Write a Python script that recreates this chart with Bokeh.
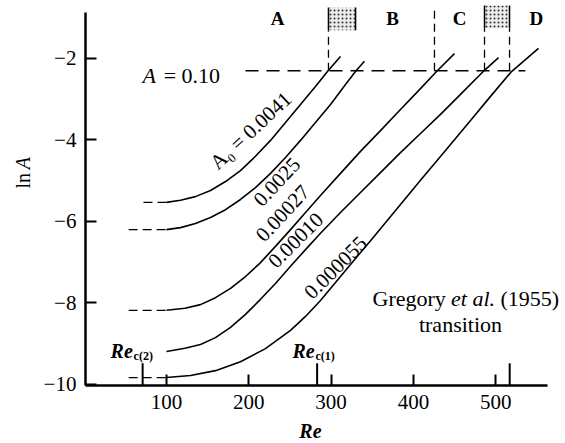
import numpy as np
from bokeh.plotting import figure
from bokeh.models import Label, FixedTicker, Range1d, LinearAxis
from bokeh.embed import file_html
from bokeh.resources import INLINE

# ---------------- data ----------------
re_c1 = [100, 117.0, 135.2, 153.5, 171.7, 189.9, 208.1, 226.4, 244.6, 262.8, 281.0, 296.8, 311.4]
ln_c1 = [-5.53, -5.48, -5.39, -5.24, -5.02, -4.75, -4.40, -4.01, -3.57, -3.13, -2.69, -2.29, -1.95]

re_c2 = [100, 117.0, 135.2, 153.5, 171.7, 189.9, 208.1, 226.4, 244.6, 262.8, 281.0, 299.3, 317.5, 330.8, 340.5]
ln_c2 = [-6.20, -6.15, -6.05, -5.90, -5.71, -5.46, -5.17, -4.82, -4.43, -4.01, -3.57, -3.13, -2.64, -2.29, -2.07]

re_c3 = [100, 122.4, 141.3, 159.5, 177.8, 196.0, 214.2, 232.4, 250.7, 268.9, 287.1, 311.4, 335.7,
         360.0, 384.3, 408.6, 428.1, 449.9]
ln_c3 = [-8.18, -8.13, -8.04, -7.87, -7.64, -7.35, -7.01, -6.61, -6.20, -5.78, -5.36, -4.82, -4.28,
         -3.77, -3.25, -2.74, -2.32, -1.88]

re_c4 = [100, 122.4, 141.3, 159.5, 177.8, 196.0, 214.2, 232.4, 250.7, 268.9, 287.1, 311.4, 335.7,
         360.0, 384.3, 408.6, 432.9, 457.2, 486.4, 503.4]
ln_c4 = [-9.19, -9.11, -9.02, -8.85, -8.60, -8.28, -7.91, -7.52, -7.10, -6.69, -6.29, -5.78, -5.29,
         -4.80, -4.31, -3.84, -3.37, -2.88, -2.29, -1.98]

re_c5 = [100, 129.2, 159.5, 189.9, 220.2, 250.7, 268.9, 287.1, 317.5, 347.9, 378.3, 408.6, 439.0,
         469.4, 493.7, 519.2, 552.0]
ln_c5 = [-9.83, -9.78, -9.66, -9.44, -9.12, -8.67, -8.33, -7.94, -7.20, -6.47, -5.73, -4.99, -4.26,
         -3.52, -2.93, -2.32, -1.75]

curve_res = [re_c1, re_c2, re_c3, re_c4, re_c5]
curve_lns = [ln_c1, ln_c2, ln_c3, ln_c4, ln_c5]
curve_labels = ["A\u2080 = 0.0041", "0.0025", "0.00027", "0.00010", "0.000055"]

# dashed extensions to the left of curve starts (start Re, level)
ext_start = [72, 54, 54, 54]
ext_level = [-5.53, -6.20, -8.18, -9.83]
ext_end = 100

A_crit = 0.10
crit_re = [196, 536]

# transition boundaries (vertical dashed lines) and stippled bands
v_re = [296.8, 425.6, 486.4, 516.8]
v_top = [-1.31, -0.75, -1.26, -1.26]
band_left = [296.8, 486.4]
band_right = [329.7, 516.8]
band_bottom = [-1.31, -1.26]
band_top = [-0.75, -0.70]
regions = ["A", "B", "C", "D"]
region_re = [234.9, 374.6, 456.0, 549.5]

# critical Reynolds numbers (tall marks on Re axis)
re_crit_marks = [71, 283, 517]

x_ticks = [100, 200, 300, 400, 500]
y_ticks = [-10, -8, -6, -4, -2]

# ---------------- figure ----------------
XMIN, XMAX = -101.7, 584.8
YMIN, YMAX = -11.448, -0.577
X_AX, Y_AX = 1.5, -10.02      # where the axes sit
X_END, Y_END = 563, -0.87      # ends of the axis lines

p = figure(width=565, height=443, output_backend="svg", toolbar_location=None,
           x_range=Range1d(XMIN, XMAX), y_range=Range1d(YMIN, YMAX),
           x_axis_type=None, y_axis_type=None, min_border=0)
p.grid.visible = False
p.outline_line_color = None
p.background_fill_color = "white"
p.border_fill_color = "white"

SERIF = "Liberation Serif"

xax = LinearAxis(fixed_location=Y_AX, bounds=(X_AX, X_END))
yax = LinearAxis(fixed_location=X_AX, bounds=(Y_AX, Y_END))
p.add_layout(xax, "below")
p.add_layout(yax, "left")

for ax, ticks, so in ((xax, x_ticks, 10), (yax, y_ticks, 9)):
    ax.ticker = FixedTicker(ticks=ticks)
    ax.axis_line_width = 2.5
    ax.axis_line_color = "black"
    ax.major_tick_line_width = 2
    ax.major_tick_line_color = "black"
    ax.major_tick_in = 11
    ax.major_tick_out = 0
    ax.minor_tick_line_color = None
    ax.major_label_text_font = SERIF
    ax.major_label_text_font_size = "21px"
    ax.major_label_text_color = "black"
    ax.major_label_standoff = so
yax.major_label_overrides = {t: "\u2212" + str(-t) for t in y_ticks}

# curves
for xs, ys in zip(curve_res, curve_lns):
    p.line(xs, ys, line_color="black", line_width=1.6, line_join="round")

# dashed starts
p.segment(x0=ext_start, y0=ext_level, x1=[ext_end] * len(ext_start), y1=ext_level,
          line_color="black", line_width=1.3, line_dash="9 5")

# A = 0.10 line
lnAc = float(np.log(A_crit))
p.line(crit_re, [lnAc, lnAc], line_color="black", line_width=1.6, line_dash="13 8")

# vertical dashed boundaries
p.segment(x0=v_re, y0=[lnAc] * len(v_re), x1=v_re, y1=v_top,
          line_color="black", line_width=1.3, line_dash="8 5")

# stippled bands
p.quad(left=band_left, right=band_right, bottom=band_bottom, top=band_top,
       fill_color="#ececec", hatch_pattern=".", hatch_color="#333333",
       hatch_scale=4, line_color=None)
p.segment(x0=band_left + band_right, y0=band_bottom * 2, x1=band_left + band_right,
          y1=band_top * 2, line_color="black", line_width=1.5)

# critical Re marks
p.segment(x0=re_crit_marks, y0=[Y_AX] * 3, x1=re_crit_marks, y1=[Y_AX + 0.54] * 3,
          line_color="black", line_width=2)

def lab(x, y, t, size="21px", style="normal", align="left", base="alphabetic", angle=0.0):
    p.add_layout(Label(x=x, y=y, text=t, text_font=SERIF, text_font_size=size,
                       text_font_style=style, text_align=align, text_baseline=base,
                       text_color="black", angle=angle))

# curve labels
lab_pos = [(202.2, -3.77, 43), (234.0, -5.03, 47), (241.0, -5.80, 47),
           (256.8, -6.46, 45), (305.3, -7.13, 45)]
for t, (x, y, a) in zip(curve_labels, lab_pos):
    lab(x, y, t, align="center", base="middle", angle=np.deg2rad(a))

# region letters
for t, x in zip(regions, region_re):
    lab(x, -1.02, t, size="19px", style="bold", align="center", base="middle")

# A = 0.10
lab(70.8, -2.42, "A", size="22px", style="italic")
lab(96.6, -2.42, "= 0.10", size="22px")

# Gregory et al.
lab(350.3, -7.89, "Gregory", size="22px")
lab(445.7, -7.89, "et al.", size="22px", style="italic")
lab(505.8, -7.89, "(1955)", size="22px")
lab(457.2, -8.53, "transition", size="22px", align="center")

# Re_c labels
lab(32.1, -9.17, "Re", size="20px", style="bold italic")
lab(60.0, -9.29, "c(2)", size="12px", style="bold")
lab(253.1, -9.19, "Re", size="20px", style="bold italic")
lab(281.0, -9.29, "c(1)", size="12px", style="bold")

# axis titles
lab(274.9, -11.13, "Re", size="20px", style="bold italic", align="center", base="middle")
lab(-73.8, -5.19, "ln", size="20px", align="left", base="middle", angle=np.pi / 2)
lab(-73.8, -4.72, "A", size="20px", style="italic", align="left", base="middle", angle=np.pi / 2)

open("out.html", "w").write(file_html(p, INLINE))
